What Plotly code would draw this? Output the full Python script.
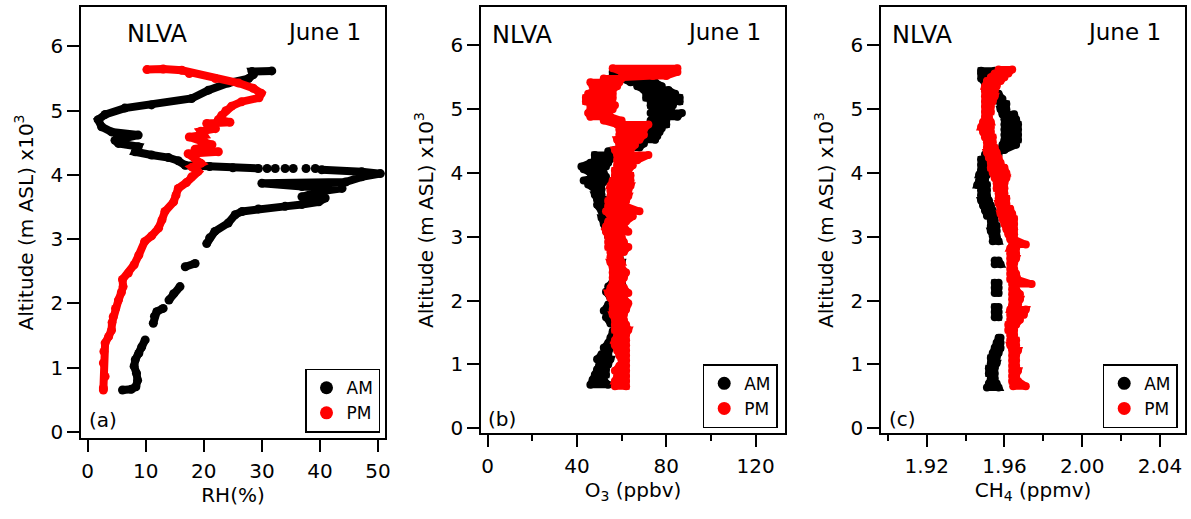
import plotly.graph_objects as go

# ---------------- data: altitude in km (x10^3 m ASL) ----------------
# Panel (a): relative humidity profiles, None marks breaks in the record
rh_am_alt = [0.65, 0.66, 0.70, 0.80, 0.91, 1.02, 1.12, 1.22, 1.32, 1.43, None,
             1.69, 1.80, 1.87, 1.92, None,
             2.05, 2.15, 2.26, None,
             2.57, 2.62, None,
             2.93, 3.02, 3.12, 3.25, 3.38, 3.43, 3.47, 3.51, 3.54, 3.58, 3.64, 3.66,
             3.74, 3.79, 3.82, 3.87, 3.89, 3.97, 4.02, 4.05, 4.08, None,
             4.10, None, 4.10, None, 4.10, None, 4.10, None, 4.10, None, 4.10, None,
             4.10, 4.11, 4.13, 4.15, 4.22, 4.27, 4.31, 4.36, 4.44, 4.49, 4.54, 4.62,
             4.67, 4.75, 4.86, 4.94, 5.04, 5.09, 5.19, 5.32, 5.43, 5.50, 5.56, 5.61, 5.62]
rh_am_val = [6.0, 7.5, 8.3, 8.6, 8.4, 8.0, 8.2, 8.8, 9.3, 9.9, None,
             11.3, 11.5, 11.9, 13.0, None,
             14.0, 14.8, 15.9, None,
             16.8, 18.5, None,
             20.5, 21.0, 21.9, 24.2, 25.4, 26.6, 29.4, 34.0, 36.9, 39.8, 40.9, 36.9,
             39.8, 43.8, 36.9, 30.0, 44.4, 47.2, 50.4, 47.2, 40.3, None,
             39.2, None, 37.6, None, 35.4, None, 34.0, None, 32.3, None, 30.9, None,
             29.4, 25.0, 21.0, 16.8, 15.6, 13.9, 11.0, 8.2, 8.7, 5.3, 4.7, 8.7,
             4.1, 2.4, 1.8, 3.0, 6.4, 11.0, 17.9, 20.8, 24.2, 27.7, 28.5, 28.3, 31.7]

rh_pm_alt = [0.65, 0.68, 0.86, 1.07, 1.25, 1.38, 1.48, 1.58, 1.70, 1.79, 1.92, 2.05,
             2.17, 2.26, 2.37, 2.47, 2.60, 2.75, 2.96, 3.05, 3.17, 3.30, 3.43, 3.58,
             3.68, 3.79, 3.88, 3.97, 4.05, 4.12, 4.18, 4.25, 4.33, 4.36, 4.40, 4.47,
             4.52, 4.59, 4.62, 4.68, 4.72, 4.80, 4.82, 4.86, 4.93, 5.00, 5.07, 5.14,
             5.20, 5.27, 5.35, 5.43, 5.50, 5.58, 5.63, 5.65, 5.64]
rh_pm_val = [2.7, 2.7, 3.0, 2.7, 2.8, 3.0, 3.6, 4.1, 4.2, 4.4, 4.8, 5.3,
             5.8, 6.1, 6.0, 7.0, 8.0, 8.8, 9.8, 11.0, 12.2, 12.8, 13.3, 14.8,
             15.2, 15.6, 17.0, 17.9, 19.0, 18.0, 19.5, 18.5, 17.3, 22.5, 18.5, 21.4,
             20.0, 17.5, 20.0, 19.5, 22.0, 20.5, 24.5, 22.5, 23.1, 23.8, 24.8, 26.5,
             29.5, 29.9, 28.5, 26.0, 22.0, 17.5, 16.2, 13.0, 10.2]

# Panel (b): ozone, band edges (low, high) at each altitude level
o3_am_alt = [0.68, 0.76, 0.84, 0.92, 1.00, 1.08, 1.16, 1.26, 1.34, 1.42, 1.52, 1.64,
             1.74, 1.84, 1.94, 2.04, 2.14, 2.22, 2.30, 2.40, 2.50, 2.60, 2.70, 2.80,
             2.90, 3.00, 3.10, 3.20, 3.30, 3.40, 3.50, 3.58, 3.66, 3.74, 3.82, 3.88,
             3.94, 4.00, 4.06, 4.10, 4.16, 4.22, 4.28, 4.34, 4.40, 4.46, 4.52, 4.58,
             4.64, 4.70, 4.76, 4.82, 4.88, 4.94, 5.00, 5.06, 5.12, 5.18, 5.24, 5.30,
             5.36, 5.42, 5.48, 5.53, 5.58]
o3_am_lo = [46, 47, 48, 49, 50, 49, 51, 52, 54, 55, 56, 55,
            53, 52, 54, 55, 53, 54, 56, 57, 57, 58, 57, 56,
            55, 54, 53, 52, 51, 51, 49, 49, 48, 48, 45, 43,
            48, 46, 43, 42, 46, 48, 48, 54, 60, 66, 69, 69,
            70, 72, 73, 73, 74, 73, 74, 73, 73, 71, 71, 70,
            67, 64, 60, 56, 56]
o3_am_hi = [54, 52, 53, 53, 54, 55, 54, 55, 56, 56, 58, 58,
            56, 55, 57, 57, 55, 57, 60, 59, 59, 60, 59, 58,
            59, 57, 56, 54, 54, 53, 52, 52, 51, 51, 51, 53,
            53, 52, 51, 53, 54, 55, 57, 62, 68, 70, 75, 76,
            77, 78, 80, 80, 85, 87, 82, 83, 86, 86, 84, 81,
            78, 75, 71, 71, 68]

o3_pm_alt = [0.66, 0.74, 0.82, 0.90, 0.98, 1.06, 1.14, 1.22, 1.30, 1.38, 1.46, 1.54,
             1.62, 1.70, 1.78, 1.86, 1.96, 2.04, 2.12, 2.20, 2.28, 2.36, 2.44, 2.52,
             2.60, 2.68, 2.76, 2.84, 2.92, 3.00, 3.08, 3.16, 3.24, 3.32, 3.40, 3.48,
             3.56, 3.64, 3.72, 3.80, 3.88, 3.96, 4.04, 4.12, 4.20, 4.28, 4.36, 4.44,
             4.52, 4.60, 4.68, 4.76, 4.82, 4.88, 4.94, 5.00, 5.06, 5.12, 5.18, 5.24,
             5.30, 5.36, 5.42, 5.48, 5.52, 5.58, 5.64]
o3_pm_lo = [57, 57, 58, 57, 59, 60, 59, 58, 57, 57, 58, 57,
            57, 57, 56, 56, 56, 55, 54, 55, 56, 56, 56, 56,
            55, 55, 55, 54, 54, 54, 53, 53, 54, 55, 53, 54,
            54, 55, 55, 55, 56, 57, 57, 58, 58, 58, 57, 59,
            58, 59, 59, 58, 52, 46, 45, 46, 46, 44, 44, 45,
            48, 47, 46, 52, 74, 60, 56]
o3_pm_hi = [62, 62, 62, 62, 62, 62, 62, 62, 62, 62, 62, 63,
            62, 61, 61, 62, 63, 61, 63, 61, 60, 61, 62, 60,
            60, 59, 61, 63, 61, 60, 63, 61, 62, 65, 68, 62,
            62, 63, 63, 64, 64, 64, 63, 65, 67, 72, 64, 66,
            68, 70, 70, 72, 60, 55, 54, 56, 57, 55, 56, 56,
            56, 58, 59, 60, 80, 85, 85]

# Panel (c): methane, band edges (low, high); None marks breaks in the record
ch4_am_alt = [0.64, 0.70, 0.78, 0.86, 0.94, 1.02, 1.10, 1.18, 1.26, 1.34, 1.42, None,
              1.74, 1.82, 1.90, None,
              2.12, 2.20, 2.28, None,
              2.57, 2.63, None,
              2.93, 3.01, 3.09, 3.17, 3.25, 3.33, 3.41, 3.49, 3.57, 3.65, 3.73, 3.81,
              3.89, 3.97, 4.05, 4.13, 4.21, 4.29, 4.36, 4.44, 4.52, 4.60, 4.68, 4.76,
              4.84, 4.92, 5.00, 5.08, 5.16, 5.24, 5.32, 5.40, 5.48, 5.56, 5.60]
ch4_am_lo = [1.951, 1.952, 1.953, 1.952, 1.952, 1.953, 1.953, 1.954, 1.955, 1.956, 1.957, None,
             1.955, 1.955, 1.955, None,
             1.955, 1.955, 1.955, None,
             1.955, 1.955, None,
             1.954, 1.954, 1.953, 1.953, 1.953, 1.951, 1.950, 1.949, 1.948, 1.948, 1.948, 1.946,
             1.947, 1.947, 1.948, 1.948, 1.948, 1.950, 1.959, 1.959, 1.960, 1.960, 1.960, 1.960,
             1.960, 1.959, 1.958, 1.958, 1.956, 1.953, 1.950, 1.950, 1.948, 1.948, 1.948]
ch4_am_hi = [1.957, 1.956, 1.955, 1.955, 1.955, 1.956, 1.956, 1.957, 1.958, 1.958, 1.958, None,
             1.957, 1.957, 1.957, None,
             1.957, 1.957, 1.957, None,
             1.958, 1.957, None,
             1.957, 1.956, 1.956, 1.956, 1.955, 1.955, 1.954, 1.953, 1.952, 1.951, 1.951, 1.951,
             1.950, 1.951, 1.950, 1.951, 1.952, 1.957, 1.960, 1.966, 1.967, 1.967, 1.967, 1.967,
             1.966, 1.965, 1.961, 1.961, 1.959, 1.957, 1.954, 1.953, 1.953, 1.953, 1.955]

ch4_pm_alt = [0.66, 0.74, 0.82, 0.90, 0.98, 1.06, 1.14, 1.22, 1.30, 1.38, 1.46, 1.54,
              1.62, 1.70, 1.78, 1.86, 1.94, 2.02, 2.10, 2.18, 2.26, 2.34, 2.42, 2.50,
              2.58, 2.66, 2.74, 2.82, 2.88, 2.96, 3.04, 3.12, 3.20, 3.28, 3.36, 3.44,
              3.52, 3.60, 3.68, 3.76, 3.84, 3.92, 4.00, 4.08, 4.16, 4.24, 4.32, 4.40,
              4.48, 4.56, 4.64, 4.72, 4.80, 4.88, 4.96, 5.04, 5.12, 5.20, 5.28, 5.36,
              5.44, 5.50, 5.56, 5.62]
ch4_pm_lo = [1.9645, 1.964, 1.964, 1.964, 1.964, 1.964, 1.964, 1.964, 1.963, 1.963, 1.963, 1.962,
             1.962, 1.963, 1.963, 1.963, 1.964, 1.964, 1.964, 1.964, 1.964, 1.963, 1.963, 1.963,
             1.963, 1.963, 1.963, 1.963, 1.964, 1.963, 1.962, 1.961, 1.960, 1.959, 1.958, 1.958,
             1.957, 1.957, 1.957, 1.956, 1.956, 1.955, 1.954, 1.953, 1.953, 1.952, 1.951, 1.951,
             1.951, 1.950, 1.949, 1.948, 1.949, 1.950, 1.950, 1.950, 1.950, 1.950, 1.950, 1.950,
             1.951, 1.953, 1.955, 1.957]
ch4_pm_hi = [1.971, 1.967, 1.966, 1.967, 1.966, 1.966, 1.966, 1.967, 1.966, 1.966, 1.965, 1.965,
             1.966, 1.968, 1.970, 1.971, 1.967, 1.968, 1.968, 1.966, 1.974, 1.966, 1.966, 1.965,
             1.965, 1.966, 1.966, 1.966, 1.971, 1.965, 1.965, 1.965, 1.965, 1.965, 1.964, 1.963,
             1.961, 1.961, 1.960, 1.960, 1.960, 1.961, 1.961, 1.960, 1.958, 1.957, 1.956, 1.955,
             1.954, 1.954, 1.953, 1.953, 1.953, 1.952, 1.953, 1.953, 1.954, 1.955, 1.955, 1.956,
             1.958, 1.960, 1.962, 1.964]

series_names = ["AM", "PM"]
x_titles = ["RH(%)", "O<sub>3</sub> (ppbv)", "CH<sub>4</sub> (ppmv)"]
panel_tags = ["(a)", "(b)", "(c)"]
site_label = "NLVA"
date_label = "June 1"

# ---------------- styling ----------------
W, H = 1191, 519
FONT = "DejaVu Sans, Open Sans, sans-serif"
COLORS = {"AM": "#000000", "PM": "#ff0000"}
LINE_W = 8
MARK_SZ = 9


def band_path(alts, lo, hi):
    """Trace each altitude level edge to edge, alternating direction."""
    xs, ys = [], []
    flip = False
    for a, l, h in zip(alts, lo, hi):
        if a is None:
            xs.append(None)
            ys.append(None)
            flip = False
            continue
        pair = (h, l) if flip else (l, h)
        xs.extend(pair)
        ys.extend([a, a])
        flip = not flip
    return xs, ys


def px_x(p):
    return p / W


def px_y(p):
    return 1 - p / H


fig = go.Figure()


def add_profile(xs, ys, name, axis_idx, lw=LINE_W, ms=MARK_SZ):
    sfx = "" if axis_idx == 1 else str(axis_idx)
    fig.add_trace(go.Scatter(
        x=xs, y=ys, mode="lines+markers", name=name, showlegend=False,
        line=dict(color=COLORS[name], width=lw),
        marker=dict(color=COLORS[name], size=ms, symbol="circle"),
        connectgaps=False, xaxis="x" + sfx, yaxis="y" + sfx, hoverinfo="skip",
    ))


add_profile(rh_am_val, rh_am_alt, "AM", 1)
add_profile(rh_pm_val, rh_pm_alt, "PM", 1)
add_profile(*band_path(o3_am_alt, o3_am_lo, o3_am_hi), "AM", 2, 7, 8)
add_profile(*band_path(o3_pm_alt, o3_pm_lo, o3_pm_hi), "PM", 2, 7, 8)
add_profile(*band_path(ch4_am_alt, ch4_am_lo, ch4_am_hi), "AM", 3, 7, 8)
add_profile(*band_path(ch4_pm_alt, ch4_pm_lo, ch4_pm_hi), "PM", 3, 7, 8)

# legend entries (one legend box per panel)
legend_ids = ["legend", "legend2", "legend3"]
for i, lg in enumerate(legend_ids):
    sfx = "" if i == 0 else str(i + 1)
    for nm in series_names:
        fig.add_trace(go.Scatter(
            x=[None], y=[None], mode="markers", name=nm, legend=lg,
            marker=dict(color=COLORS[nm], size=13, symbol="circle"),
            xaxis="x" + sfx, yaxis="y" + sfx,
        ))

# panel geometry in pixels: (left, right, top, bottom)
frames = [(81, 385, 7, 438), (481, 785, 7, 433), (881, 1185, 7, 433)]
x_ranges = [[-1.15, 51.2], [-3.0, 133.2], [1.8965, 2.0529]]
y_ranges = [[-0.098, 6.615], [-0.074, 6.60], [-0.074, 6.60]]

axis_common = dict(
    showline=True, linecolor="black", linewidth=1.5, mirror=True,
    ticks="outside", ticklen=12, tickwidth=1.5, tickcolor="black",
    showgrid=False, zeroline=False, automargin=False,
    tickfont=dict(family=FONT, size=20, color="black"),
)

layout_axes = {}
for i, (l, r, t, b) in enumerate(frames):
    sfx = "" if i == 0 else str(i + 1)
    xa = dict(axis_common)
    xa.update(domain=[px_x(l), px_x(r)], range=x_ranges[i], anchor="y" + sfx,
              ticklabelstandoff=2,
              title=dict(text=x_titles[i], font=dict(family=FONT, size=20, color="black"),
                         standoff=5))
    if i == 0:
        xa.update(tick0=0, dtick=10)
    elif i == 1:
        xa.update(tick0=0, dtick=40,
                  minor=dict(ticks="outside", ticklen=6, tickwidth=1.5,
                             tickcolor="black", dtick=20, tick0=0, showgrid=False))
    else:
        xa.update(tick0=1.92, dtick=0.04, tickformat=".2f",
                  minor=dict(ticks="outside", ticklen=6, tickwidth=1.5,
                             tickcolor="black", dtick=0.02, tick0=1.90, showgrid=False))
    ya = dict(axis_common)
    ya.update(domain=[px_y(b), px_y(t)], range=y_ranges[i], anchor="x" + sfx,
              tick0=0, dtick=1,
              title=dict(text="Altitude (m ASL) x10<sup>3</sup>",
                         font=dict(family=FONT, size=20, color="black"), standoff=12))
    layout_axes["xaxis" + sfx] = xa
    layout_axes["yaxis" + sfx] = ya

# legend boxes anchored at their lower-right corners
legend_corners = [(380, 432.7), (777.7, 428.3), (1177.7, 428.3)]
legend_layout = {}
for lg, (rx, by) in zip(legend_ids, legend_corners):
    legend_layout[lg] = dict(
        x=px_x(rx), y=px_y(by), xanchor="right", yanchor="bottom",
        bgcolor="white", bordercolor="black", borderwidth=1.5,
        font=dict(family=FONT, size=17, color="black"),
        itemsizing="trace", tracegroupgap=0,
    )

annotations = []
label_pos = [((157, 33.5), (324, 32), (102.5, 420)),
             ((522, 35), (723.5, 31.5), (502, 419)),
             ((922, 35), (1123.5, 31.5), (902, 419))]
for i, (site_xy, date_xy, tag_xy) in enumerate(label_pos):
    for txt, (cx, cy), sz in ((site_label, site_xy, 24), (date_label, date_xy, 23),
                              (panel_tags[i], tag_xy, 20)):
        annotations.append(dict(
            text=txt, x=px_x(cx), y=px_y(cy), xref="paper", yref="paper",
            xanchor="center", yanchor="middle", showarrow=False,
            font=dict(family=FONT, size=sz, color="black"),
        ))

fig.update_layout(
    width=W, height=H, margin=dict(l=0, r=0, t=0, b=0),
    paper_bgcolor="white", plot_bgcolor="white",
    font=dict(family=FONT, color="black"),
    annotations=annotations,
    **layout_axes, **legend_layout,
)

fig.write_html("out.html")
